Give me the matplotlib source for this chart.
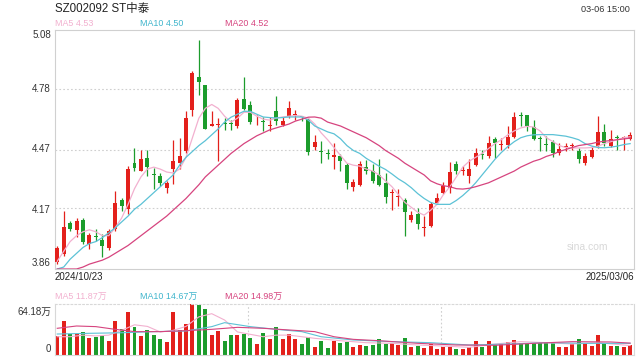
import numpy as np
import matplotlib
matplotlib.use("Agg")
import matplotlib.pyplot as plt

plt.rcParams['font.family'] = ['Liberation Sans', 'Noto Sans CJK SC', 'DejaVu Sans']

# daily candles, 2024/10/23 .. 2025/03/06
opens = [3.897, 3.936, 4.097, 4.060, 4.109, 3.987, 4.027, 4.009, 3.965, 4.063,
         4.211, 4.165, 4.399, 4.360, 4.427, 4.345, 4.334, 4.275, 4.368, 4.399,
         4.461, 4.673, 4.838, 4.800, 4.590, 4.595, 4.603, 4.603, 4.589, 4.729,
         4.699, 4.613, 4.616, 4.588, 4.668, 4.597, 4.639, 4.645, 4.639, 4.626,
         4.483, 4.460, 4.452, 4.434, 4.439, 4.389, 4.278, 4.288, 4.380, 4.360,
         4.338, 4.297, 4.250, 4.230, 4.211, 4.109, 4.143, 4.070, 4.080, 4.199,
         4.246, 4.275, 4.397, 4.362, 4.334, 4.389, 4.448, 4.439, 4.524, 4.493,
         4.495, 4.534, 4.645, 4.644, 4.583, 4.526, 4.497, 4.507, 4.453, 4.484,
         4.486, 4.461, 4.399, 4.433, 4.487, 4.558, 4.490, 4.531, 4.528, 4.524]
highs = [3.978, 4.156, 4.105, 4.122, 4.122, 4.043, 4.063, 4.038, 4.066, 4.258,
         4.224, 4.385, 4.478, 4.470, 4.470, 4.377, 4.351, 4.309, 4.521, 4.529,
         4.665, 4.873, 5.029, 4.800, 4.665, 4.631, 4.631, 4.622, 4.733, 4.838,
         4.716, 4.648, 4.636, 4.636, 4.741, 4.636, 4.719, 4.673, 4.643, 4.631,
         4.546, 4.512, 4.473, 4.504, 4.449, 4.402, 4.317, 4.411, 4.416, 4.394,
         4.419, 4.348, 4.270, 4.266, 4.224, 4.156, 4.173, 4.131, 4.202, 4.250,
         4.304, 4.405, 4.411, 4.385, 4.419, 4.478, 4.466, 4.538, 4.534, 4.529,
         4.588, 4.660, 4.660, 4.648, 4.622, 4.541, 4.541, 4.516, 4.504, 4.504,
         4.504, 4.478, 4.450, 4.490, 4.639, 4.602, 4.572, 4.546, 4.538, 4.558]
lows = [3.885, 3.928, 4.055, 4.021, 3.987, 3.961, 4.004, 3.919, 3.958, 4.055,
        4.156, 4.139, 4.360, 4.360, 4.334, 4.267, 4.283, 4.250, 4.292, 4.368,
        4.453, 4.639, 4.750, 4.575, 4.590, 4.411, 4.572, 4.572, 4.580, 4.673,
        4.602, 4.597, 4.563, 4.563, 4.597, 4.588, 4.631, 4.619, 4.614, 4.444,
        4.466, 4.402, 4.419, 4.372, 4.360, 4.270, 4.258, 4.283, 4.343, 4.300,
        4.283, 4.199, 4.160, 4.182, 4.029, 4.100, 4.063, 4.029, 4.072, 4.190,
        4.241, 4.250, 4.343, 4.338, 4.300, 4.385, 4.419, 4.427, 4.427, 4.470,
        4.478, 4.529, 4.588, 4.563, 4.521, 4.461, 4.461, 4.433, 4.444, 4.461,
        4.470, 4.399, 4.389, 4.427, 4.478, 4.490, 4.483, 4.466, 4.470, 4.521]
closes = [3.965, 4.072, 4.066, 4.105, 3.999, 4.033, 4.023, 3.978, 4.055, 4.195,
          4.182, 4.372, 4.377, 4.422, 4.382, 4.340, 4.297, 4.297, 4.411, 4.439,
          4.631, 4.863, 4.814, 4.575, 4.600, 4.598, 4.600, 4.600, 4.724, 4.677,
          4.609, 4.618, 4.612, 4.594, 4.614, 4.614, 4.682, 4.650, 4.636, 4.456,
          4.507, 4.456, 4.449, 4.440, 4.410, 4.300, 4.304, 4.394, 4.360, 4.309,
          4.287, 4.227, 4.255, 4.235, 4.151, 4.134, 4.092, 4.075, 4.194, 4.224,
          4.283, 4.355, 4.360, 4.365, 4.372, 4.453, 4.444, 4.504, 4.504, 4.498,
          4.534, 4.636, 4.643, 4.588, 4.524, 4.522, 4.495, 4.450, 4.473, 4.488,
          4.490, 4.419, 4.436, 4.466, 4.558, 4.504, 4.524, 4.529, 4.531, 4.546]

ma5 = [3.90, 3.95, 4.00, 4.03, 4.05, 4.06, 4.05, 4.03, 4.03, 4.07,
       4.12, 4.19, 4.27, 4.33, 4.37, 4.38, 4.37, 4.355, 4.35, 4.37,
       4.43, 4.53, 4.63, 4.68, 4.70, 4.68, 4.64, 4.61, 4.63, 4.66,
       4.66, 4.64, 4.625, 4.62, 4.63, 4.636, 4.64, 4.643, 4.64, 4.63,
       4.60, 4.555, 4.52, 4.48, 4.44, 4.40, 4.39, 4.385, 4.37, 4.36,
       4.34, 4.31, 4.28, 4.24, 4.20, 4.175, 4.15, 4.135, 4.16, 4.19,
       4.24, 4.28, 4.33, 4.38, 4.41, 4.43, 4.45, 4.475, 4.50, 4.52,
       4.545, 4.565, 4.58, 4.588, 4.585, 4.565, 4.53, 4.51, 4.49, 4.48,
       4.478, 4.478, 4.478, 4.48, 4.487, 4.50, 4.51, 4.52, 4.53, 4.535]
ma10 = [3.86, 3.87, 3.91, 3.94, 3.97, 3.99, 4.00, 4.02, 4.045, 4.07,
        4.10, 4.13, 4.165, 4.19, 4.22, 4.25, 4.28, 4.31, 4.34, 4.39,
        4.43, 4.46, 4.49, 4.515, 4.545, 4.575, 4.61, 4.635, 4.65, 4.665,
        4.665, 4.65, 4.636, 4.633, 4.631, 4.633, 4.636, 4.636, 4.636, 4.62,
        4.59, 4.575, 4.56, 4.55, 4.525, 4.49, 4.465, 4.45, 4.425, 4.405,
        4.385, 4.368, 4.345, 4.32, 4.30, 4.275, 4.245, 4.22, 4.20, 4.19,
        4.19, 4.19, 4.21, 4.235, 4.265, 4.30, 4.34, 4.38, 4.42, 4.455,
        4.485, 4.51, 4.53, 4.54, 4.545, 4.546, 4.546, 4.546, 4.542, 4.538,
        4.53, 4.52, 4.50, 4.488, 4.48, 4.479, 4.482, 4.487, 4.495, 4.50]
ma20 = [3.86, 3.86, 3.86, 3.86, 3.87, 3.885, 3.895, 3.905, 3.92, 3.94,
        3.96, 3.98, 4.005, 4.03, 4.055, 4.08, 4.105, 4.13, 4.16, 4.19,
        4.22, 4.255, 4.29, 4.33, 4.36, 4.39, 4.42, 4.45, 4.475, 4.50,
        4.52, 4.54, 4.555, 4.57, 4.58, 4.59, 4.60, 4.615, 4.625, 4.635,
        4.636, 4.63, 4.61, 4.60, 4.59, 4.575, 4.56, 4.545, 4.53, 4.51,
        4.49, 4.465, 4.445, 4.425, 4.40, 4.38, 4.36, 4.34, 4.31, 4.295,
        4.285, 4.28, 4.27, 4.268, 4.272, 4.28, 4.29, 4.30, 4.315, 4.33,
        4.345, 4.36, 4.38, 4.395, 4.41, 4.42, 4.435, 4.445, 4.46, 4.47,
        4.48, 4.49, 4.495, 4.50, 4.508, 4.512, 4.516, 4.52, 4.524, 4.528]

# volume in 万 shares
volume = [23.9, 43.2, 26.0, 26.0, 29.4, 21.8, 23.1, 24.3, 18.0, 43.2,
          32.7, 54.5, 35.2, 23.9, 31.0, 25.2, 20.6, 16.8, 54.5, 31.5,
          39.0, 64.18, 63.5, 57.9, 25.6, 30.2, 17.6, 24.8, 24.8, 26.4,
          21.4, 13.8, 27.3, 20.6, 35.2, 20.6, 26.4, 20.6, 14.3, 22.2,
          10.5, 17.6, 9.2, 17.6, 14.7, 16.8, 10.5, 12.6, 11.3, 12.6,
          20.1, 13.8, 15.5, 12.6, 21.0, 9.6, 11.3, 8.4, 13.8, 8.0,
          10.5, 10.5, 7.6, 7.1, 9.6, 17.6, 10.5, 17.6, 12.6, 13.8,
          16.8, 18.9, 15.5, 15.5, 15.5, 15.5, 15.5, 14.7, 10.5, 10.5,
          13.8, 20.1, 14.7, 11.3, 25.2, 14.7, 11.3, 11.3, 9.6, 12.6]

vma5_idx = [0, 2, 4, 6, 8, 10, 12, 14, 16, 18, 20, 22, 24, 26, 28, 30, 32, 34,
            36, 38, 40, 44, 48, 52, 56, 60, 64, 68, 72, 76, 80, 84, 89]
vma5 = [23, 23, 25, 24, 25, 31, 38, 36, 29, 31, 36, 48, 52, 44, 29, 26, 23, 25,
        25, 23, 21, 18, 15.5, 14.7, 12.6, 11.3, 9.6, 13.8, 16.8, 15.5, 13.8, 15.5, 11.87]
vma10_idx = [0, 5, 10, 15, 20, 24, 26, 30, 34, 38, 41, 46, 52, 58, 64, 70, 76, 82, 89]
vma10 = [26.4, 27.3, 28.0, 29.4, 30.2, 35.7, 40.7, 35.7, 32.3, 29.4, 23.0, 18.9,
         16.8, 15.5, 12.6, 13.8, 15.5, 14.7, 14.67]
vma20_idx = [0, 3, 6, 9, 12, 16, 20, 24, 28, 32, 36, 40, 43, 46, 50, 56, 62, 68,
             74, 80, 86, 89]
vma20 = [33.6, 36.5, 35.7, 32.3, 29.4, 29.4, 30.6, 32.3, 34.8, 33.6, 31.5, 29.4,
         23.0, 19.7, 18.0, 14.7, 12.6, 12.2, 14.7, 16.8, 16.4, 14.98]

price_ticks = [5.08, 4.78, 4.47, 4.17, 3.86]

RED = '#e3201b'
GREEN = '#1c9c2c'
C5 = '#f2b0cf'
C10 = '#5cc2d6'
C20 = '#d6447f'
GRID = '#cfcfcf'

o = np.array(opens); h = np.array(highs); l = np.array(lows); c = np.array(closes)
x = np.arange(len(o))
up = c >= o
cols = np.where(up, RED, GREEN)

fig = plt.figure(figsize=(6.4, 3.6), dpi=100)
W, H = 640, 360

def box(l_, t, r, b):
    return [l_ / W, 1 - b / H, (r - l_) / W, (b - t) / H]

xlo, xhi = -0.35, 89.6

# price panel
ax = fig.add_axes(box(55, 30, 634, 269))
ax.vlines(x, l, h, colors=cols, linewidth=0.9, zorder=2)
body = np.maximum(np.abs(c - o), 0.005)
ax.bar(x, body, bottom=np.minimum(o, c), width=0.62, color=cols, linewidth=0, zorder=3)
ax.plot(x, ma5, color=C5, lw=0.9, zorder=4)
ax.plot(x, ma10, color=C10, lw=0.9, zorder=4)
ax.plot(x, ma20, color=C20, lw=0.9, zorder=4)
ax.set_xlim(xlo, xhi)
ax.set_ylim(3.86, 5.08)
ax.set_xticks([])
ax.set_yticks(price_ticks)
ax.set_yticklabels([])
for v in price_ticks[1:-1]:
    ax.axhline(v, color=GRID, lw=0.8, ls=(0, (1.5, 2)), zorder=1)
for s in ax.spines.values():
    s.set_color('#d0d0d0')
    s.set_linewidth(0.8)
ax.tick_params(length=0)
ax.text(0.955, 0.09, 'sina.com', transform=ax.transAxes, ha='right', va='center',
        fontsize=7.5, color='#d8d8d8')

# volume panel
av = fig.add_axes(box(55, 304, 634, 355))
av.bar(x, volume, width=0.62, color=cols, linewidth=0, zorder=2)
av.plot(vma5_idx, vma5, color=C5, lw=0.8, zorder=3)
av.plot(vma10_idx, vma10, color=C10, lw=0.8, zorder=3)
av.plot(vma20_idx, vma20, color=C20, lw=0.8, zorder=3)
av.set_xlim(xlo, xhi)
av.set_ylim(0, 64.18)
av.set_xticks(np.linspace(xlo, xhi, 4)[1:3])
av.set_xticklabels([])
av.set_yticks([])
av.grid(axis='x', color=GRID, lw=0.8, ls=(0, (1.5, 2)))
av.tick_params(length=0)
for s in av.spines.values():
    s.set_color('#d8d8d8')
    s.set_linewidth(0.8)
av.spines['top'].set_linestyle((0, (1.5, 2)))

# texts
def t(px, py, s, **kw):
    fig.text(px / W, 1 - py / H, s, va='center', **kw)

t(55, 9, 'SZ002092 ST中泰', fontsize=8.3, color='#222222')
t(630, 9, '03-06 15:00', fontsize=6.6, ha='right', color='#333333')
t(55, 24, 'MA5 4.53', fontsize=6.4, color=C5)
t(140, 24, 'MA10 4.50', fontsize=6.4, color='#3fb5cc')
t(225, 24, 'MA20 4.52', fontsize=6.4, color=C20)
labels_y = [35, 89, 149, 210, 263]
for v, py in zip(price_ticks, labels_y):
    t(51, py, f'{v:.2f}', fontsize=7, ha='right', color='#333333')
t(55, 277, '2024/10/23', fontsize=7, color='#222222')
t(634, 277, '2025/03/06', fontsize=7, ha='right', color='#222222')
t(55, 296, 'MA5 11.87万', fontsize=6.4, color=C5)
t(140, 296, 'MA10 14.67万', fontsize=6.4, color='#3fb5cc')
t(225, 296, 'MA20 14.98万', fontsize=6.4, color=C20)
t(51, 312, '64.18万', fontsize=7, ha='right', color='#333333')
t(51, 349, '0', fontsize=7, ha='right', color='#333333')

fig.savefig('out.png', dpi=100)
